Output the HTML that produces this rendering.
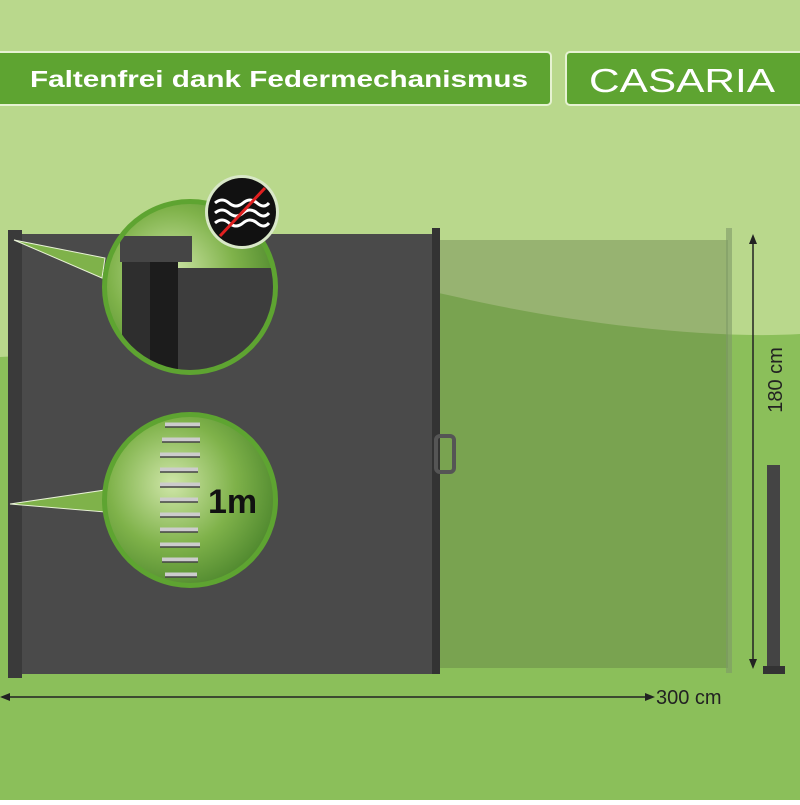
<!DOCTYPE html>
<html><head><style>
body{margin:0;width:800px;height:800px;overflow:hidden;font-family:"Liberation Sans",sans-serif}
</style></head><body>
<svg width="800" height="800" viewBox="0 0 800 800" xmlns="http://www.w3.org/2000/svg">
<defs>
<radialGradient id="bok" cx="0.4" cy="0.4" r="0.7">
<stop offset="0" stop-color="#cfe6a8"/><stop offset="0.5" stop-color="#7fb24a"/><stop offset="1" stop-color="#3f7a25"/>
</radialGradient>
<clipPath id="c1"><circle cx="190" cy="287" r="83"/></clipPath>
<clipPath id="c2"><circle cx="190" cy="500" r="83"/></clipPath>
</defs>
<rect width="800" height="800" fill="#8bbf5a"/>
<path d="M0 0H800V334C700 340 560 320 470 300C380 280 300 260 200 300C120 330 60 355 0 357Z" fill="#b9d88c"/>
<!-- header -->
<rect x="-5" y="52" width="556" height="53" rx="4" fill="#5ea431" stroke="#e6f2d2" stroke-width="2"/>
<text x="30" y="87" font-size="23.5" font-weight="bold" fill="#fff" textLength="498" lengthAdjust="spacingAndGlyphs">Faltenfrei dank Federmechanismus</text>
<rect x="566" y="52" width="244" height="53" rx="4" fill="#5ea431" stroke="#e6f2d2" stroke-width="2"/>
<text x="589" y="92" font-size="33" fill="#fff" textLength="186" lengthAdjust="spacingAndGlyphs">CASARIA</text>
<!-- ghost panel -->
<rect x="440" y="240" width="288" height="428" fill="#5a7040" opacity="0.35"/>
<rect x="726" y="228" width="6" height="445" fill="#7f9a68" opacity="0.6"/>
<!-- dark panel -->
<rect x="14" y="234" width="420" height="440" fill="#4a4a4a"/>
<rect x="8" y="230" width="14" height="448" fill="#3a3a3a"/>
<rect x="432" y="228" width="8" height="446" fill="#333"/>
<rect x="436" y="436" width="18" height="36" rx="4" fill="none" stroke="#555" stroke-width="4"/>
<!-- connectors -->
<path d="M14 240L105 258L102 278Z" fill="#7fb24a" stroke="#e8f2d6" stroke-width="1"/>
<path d="M10 504L105 490L105 512Z" fill="#7fb24a" stroke="#e8f2d6" stroke-width="1"/>
<!-- circle 1 -->
<circle cx="190" cy="287" r="88" fill="#5ea431"/>
<g clip-path="url(#c1)">
<rect x="100" y="200" width="180" height="180" fill="url(#bok)"/>
<rect x="175" y="268" width="100" height="114" fill="#3d3d3d"/>
<rect x="122" y="248" width="28" height="140" fill="#2e2e2e"/>
<rect x="150" y="262" width="28" height="130" fill="#1c1c1c"/>
<rect x="120" y="236" width="72" height="26" fill="#454545"/>
</g>
<!-- circle 2 -->
<circle cx="190" cy="500" r="88" fill="#5ea431"/>
<g clip-path="url(#c2)">
<rect x="100" y="412" width="180" height="180" fill="url(#bok)"/>
<g stroke="#ccc" stroke-width="5" fill="none">
<path d="M165 425h35M162 440h38M160 455h40M160 470h38M160 485h40M160 500h38M160 515h40M160 530h38M160 545h40M162 560h36M165 575h32"/>
</g>
<g stroke="#444" stroke-width="1.5" fill="none">
<path d="M165 427h35M162 442h38M160 457h40M160 472h38M160 487h40M160 502h38M160 517h40M160 532h38M160 547h40M162 562h36M165 577h32"/>
</g>
</g>
<text x="208" y="513" font-size="34" font-weight="bold" fill="#111">1m</text>
<!-- icon -->
<circle cx="242" cy="212" r="37" fill="#d9e8c8"/>
<circle cx="242" cy="212" r="34" fill="#111"/>
<g stroke="#fff" stroke-width="3" fill="none">
<path d="M215 203q7-6 14 0t14 0t14 0t12 0"/><path d="M215 213q7-6 14 0t14 0t14 0t12 0"/><path d="M215 223q7-6 14 0t14 0t14 0t12 0"/>
</g>
<line x1="220" y1="236" x2="265" y2="188" stroke="#e02020" stroke-width="3"/>
<!-- dimensions -->
<line x1="753" y1="238" x2="753" y2="665" stroke="#222" stroke-width="1.5"/>
<path d="M753 234l-4 10h8zM753 669l-4-10h8z" fill="#222"/>
<text transform="translate(782,380) rotate(-90)" font-size="20" fill="#222" text-anchor="middle">180 cm</text>
<line x1="2" y1="697" x2="645" y2="697" stroke="#222" stroke-width="1.5"/>
<path d="M0 697l10-4v8zM655 697l-10-4v8z" fill="#222"/>
<text x="656" y="704" font-size="20" fill="#222">300 cm</text>
<!-- small post -->
<rect x="767" y="465" width="13" height="205" fill="#444"/>
<rect x="763" y="666" width="22" height="8" fill="#333"/>
</svg>
</body></html>
